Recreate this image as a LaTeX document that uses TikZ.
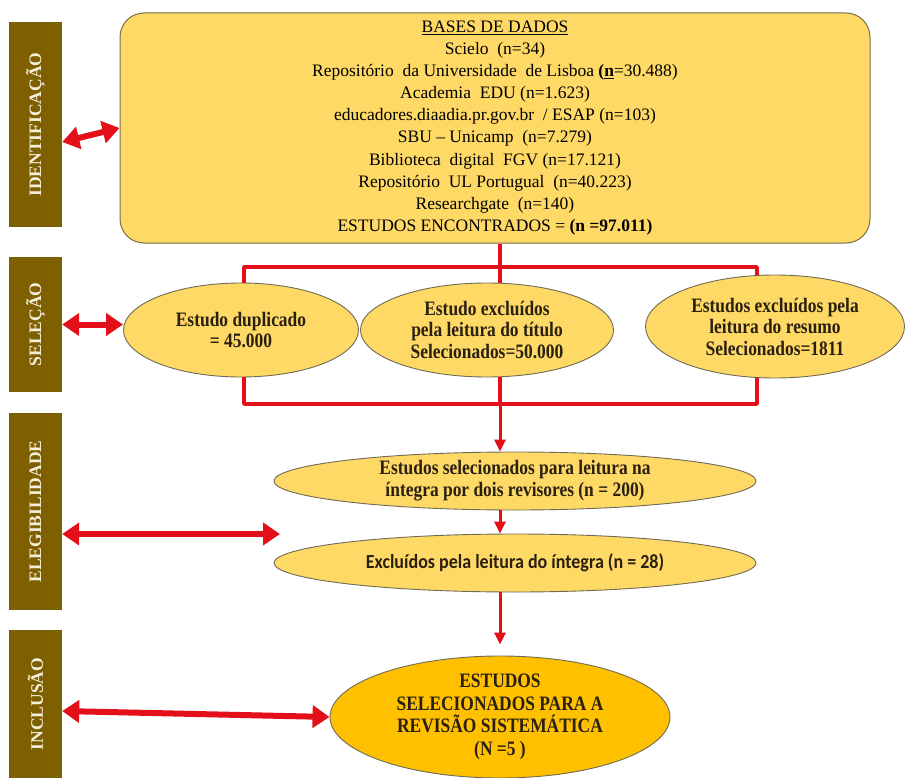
\documentclass[tikz,border=0pt]{standalone}
\usepackage{fontspec}
\setmainfont{Liberation Serif}
\newfontfamily\cserif[FakeStretch=0.85]{Liberation Serif}
\newfontfamily\ccal[FakeStretch=0.9]{Carlito}
\usetikzlibrary{arrows.meta,shapes.geometric,calc}
\definecolor{barcol}{HTML}{7F6000}
\definecolor{bartext}{HTML}{F4EEDA}
\definecolor{boxfill}{HTML}{FFD966}
\definecolor{boxdraw}{HTML}{7A6E4A}
\definecolor{ellborder}{HTML}{6E6A55}
\definecolor{finalfill}{HTML}{FFC000}
\definecolor{arrred}{HTML}{E3101A}
\definecolor{elltext}{HTML}{2A2010}
\begin{document}
\begin{tikzpicture}[x=1pt,y=-1pt,
  bar/.style={rectangle, fill=barcol, minimum width=53pt, inner sep=0pt, text=bartext,
    font=\fontsize{17.5}{20}\selectfont\bfseries},
  databox/.style={rectangle, rounded corners=24pt, fill=boxfill, draw=boxdraw, line width=1pt,
    align=center, inner sep=0pt, font=\fontsize{17.5}{22.1}\selectfont},
  ell/.style={ellipse, fill=boxfill, draw=ellborder, line width=0.9pt, inner sep=0pt, align=center,
    text=elltext, font=\cserif\bfseries\fontsize{20.5}{21.5}\selectfont},
  conn/.style={draw=arrred, line width=3.5pt, line join=round},
  downarr/.style={draw=arrred, line width=3pt, arrows={-Triangle[width=11pt,length=12pt]}},
  dbl/.style={draw=arrred, line width=6pt,
    arrows={Triangle[width=22pt,length=17pt]-Triangle[width=22pt,length=17pt]}}
]
\useasboundingbox (0,0) rectangle (923,778);

% side bars
\node[bar, minimum height=205pt] (barI) at (35.5,124.5) {\rotatebox{90}{IDENTIFICAÇÃO}};
\node[bar, minimum height=135pt] (barS) at (35.5,324.5) {\rotatebox{90}{SELEÇÃO}};
\node[bar, minimum height=197pt] (barE) at (35.5,511.5) {\rotatebox{90}{ELEGIBILIDADE}};
\node[bar, minimum height=148pt] (barN) at (35.5,704) {\rotatebox{90}{INCLUSÃO}};

% data box
\node[databox, minimum width=750pt, minimum height=230pt] (box) at (495,128) {%
\underline{BASES DE DADOS}\\
Scielo\ \ (n=34)\\
Repositório\ \ da Universidade\ \ de Lisboa \textbf{(\underline{n}}=30.488)\\
Academia\ \ EDU (n=1.623)\\
educadores.diaadia.pr.gov.br\ \ / ESAP (n=103)\\
SBU -- Unicamp\ \ (n=7.279)\\
Biblioteca\ \ digital\ \ FGV (n=17.121)\\
Repositório\ \ UL Portugual\ \ (n=40.223)\\
Researchgate\ \ (n=140)\\
ESTUDOS ENCONTRADOS = \textbf{(n =97.011)}};

% selection ellipses
\node[ell, minimum width=235pt, minimum height=94pt] (e1) at (241,330) {Estudo duplicado\\= 45.000};
\node[ell, minimum width=253pt, minimum height=94pt] (e2) at (487,330) {Estudo excluídos\\pela leitura do título\\Selecionados=50.000};
\node[ell, minimum width=259pt, minimum height=103pt] (e3) at (775,326.5) {Estudos excluídos pela\\leitura do resumo\\Selecionados=1811};

% eligibility ellipses
\node[ell, minimum width=482pt, minimum height=58pt, font=\cserif\bfseries\fontsize{20.5}{22}\selectfont] (e4) at (515,481) {Estudos selecionados para leitura na\\íntegra por dois revisores (n = 200)};
\node[ell, minimum width=482pt, minimum height=58pt, font=\ccal\bfseries\fontsize{20}{20}\selectfont] (e5) at (515,563) {Excluídos pela leitura do íntegra (n = 28)};

% inclusion ellipse
\node[ell, fill=finalfill, minimum width=340pt, minimum height=122pt, font=\cserif\bfseries\fontsize{20.5}{22.7}\selectfont] (e6) at (500,717) {ESTUDOS\\SELECIONADOS PARA A\\REVISÃO SISTEMÁTICA\\(N =5 )};

% bracket coordinates
\coordinate (bt) at (500,267);
\coordinate (btl) at (244,267);
\coordinate (btr) at (757,267);
\coordinate (bb) at (500,404);
\coordinate (bbl) at (244,404);
\coordinate (bbr) at (757,404);
\coordinate (eEnd) at (280,534);

% connectors
\draw[conn] (box.south -| bt) -- (bt);
\draw[conn] (btl |- e1.north) -- (btl) -- (btr) -- (btr |- e3.north);
\draw[conn] (bt) -- (bt |- e2.north);
\draw[conn] (bbl |- e1.south) -- (bbl) -- (bbr) -- (bbr |- e3.south);
\draw[conn] (bb |- e2.south) -- (bb);
\draw[downarr] (bb) -- (bb |- e4.north);
\draw[downarr] (bb |- e4.south) -- (bb |- e5.north);
\draw[downarr] (bb |- e5.south) -- ($(bb |- e6.north)+(0,-11)$);

% double arrows
\draw[dbl] ([yshift=-17.5pt]barI.east) -- (box.west);
\draw[dbl] (barS.east) -- (barS.east -| e1.west);
\draw[dbl] ([yshift=-22.5pt]barE.east) -- (eEnd);
\draw[dbl] ([yshift=-7pt]barN.east) -- (e6.west);
\end{tikzpicture}
\end{document}
